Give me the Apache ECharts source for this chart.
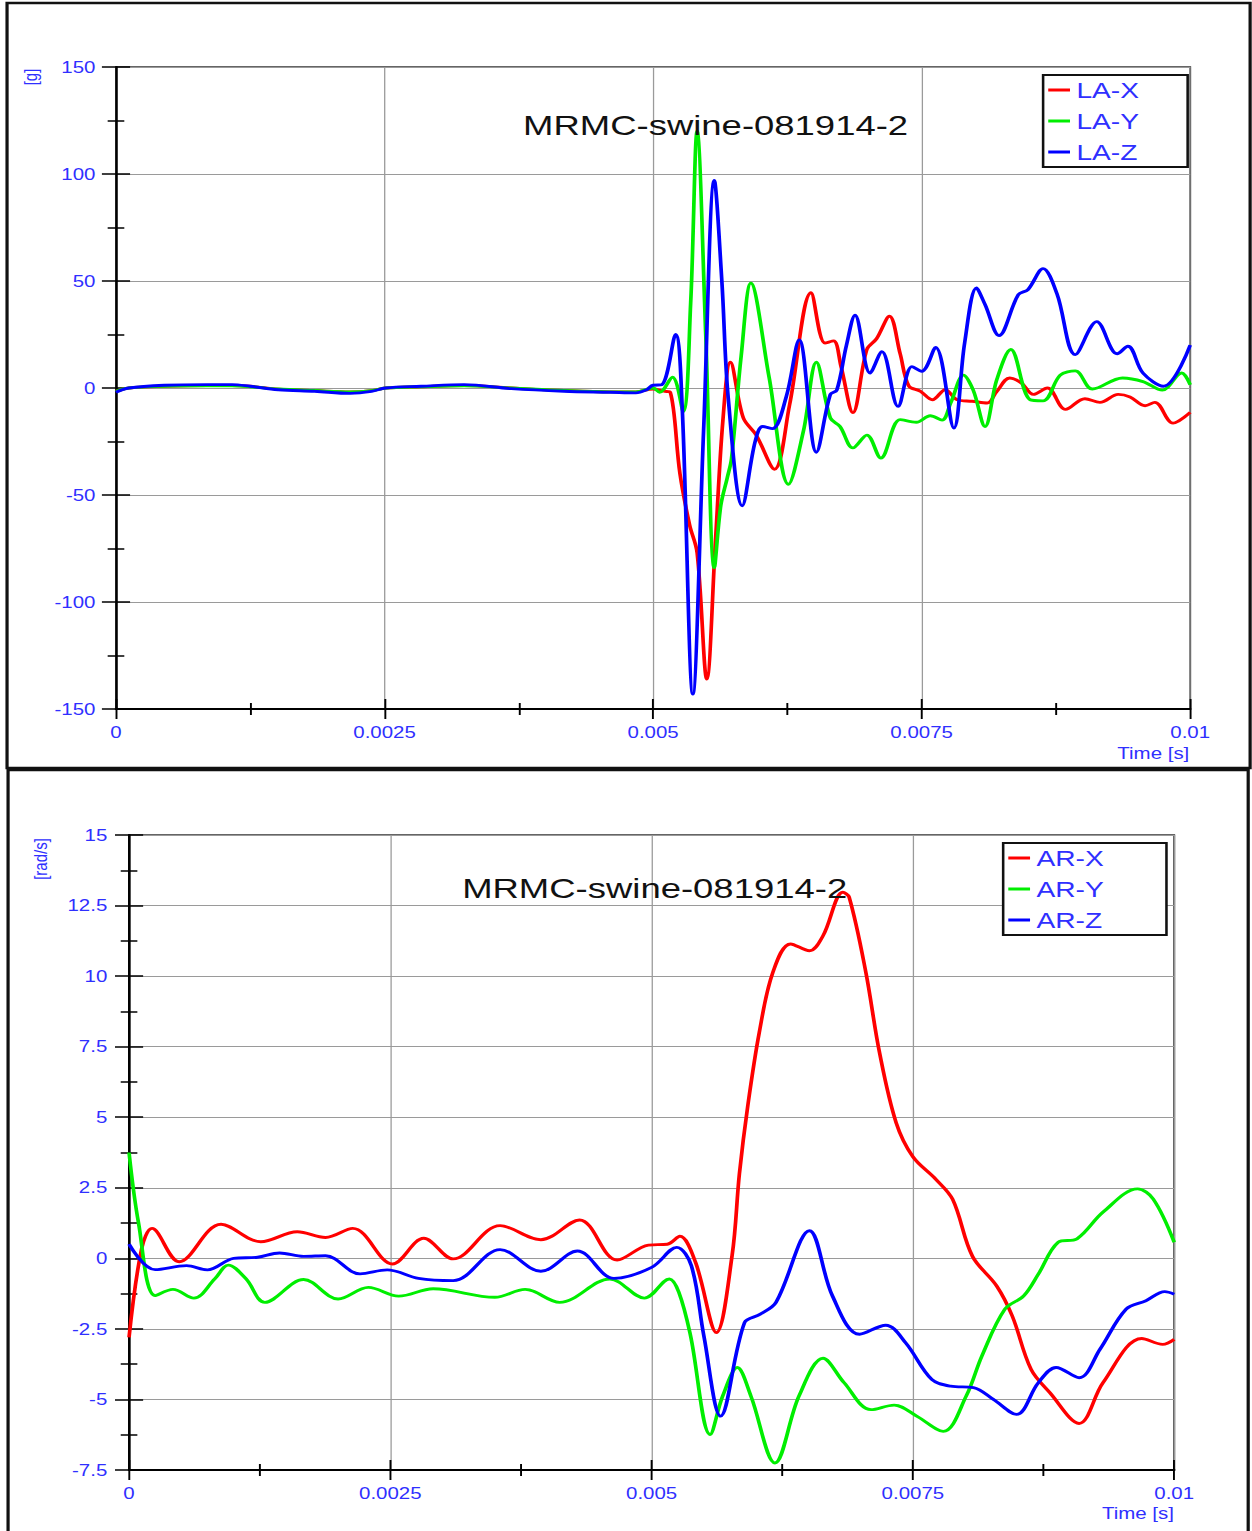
<!DOCTYPE html>
<html><head><meta charset="utf-8">
<script src="https://cdn.jsdelivr.net/npm/echarts@6/dist/echarts.min.js"></script>
<style>
html,body{margin:0;padding:0;background:#fff;overflow:hidden;}
#wrap{width:1252px;height:1531px;overflow:hidden;background:#fff;}
#chart{width:978px;height:1531px;transform:scaleX(1.2802);transform-origin:0 0;}
</style></head><body><div id="wrap"><div id="chart"></div></div>
<script>
// ---------- DATA (time in ms) ----------
const chartTitle = 'MRMC-swine-081914-2';
const xTicks = [0, 0.0025, 0.005, 0.0075, 0.01];
const laNames = ['LA-X', 'LA-Y', 'LA-Z'];
const arNames = ['AR-X', 'AR-Y', 'AR-Z'];

// Linear acceleration [g]
const tLAX = [0,0.12,0.45,0.85,1.08,1.25,1.51,1.85,2.18,2.38,2.51,2.84,3.24,3.68,4.17,4.6,4.84,5.0,5.1,5.16,5.25,5.34,5.41,5.50,5.58,5.65,5.72,5.84,5.96,6.13,6.27,6.47,6.60,6.68,6.75,6.86,6.99,7.08,7.20,7.30,7.38,7.49,7.60,7.72,7.83,7.97,8.11,8.20,8.32,8.43,8.54,8.67,8.84,9.02,9.16,9.33,9.44,9.58,9.67,9.84,10.0];
const vLAX = [-1.5,0,0.8,1.2,1.2,0.8,-0.5,-1.2,-1.8,-1.2,0,0.6,1.2,0,-1.2,-1.8,-1.8,-0.5,-1.5,-2,-40,-64,-77,-136,-72,-15,12,-14,-22,-38,-8,44.5,21,22,10,-11.5,18,23,33.5,16,1,-1.6,-5.5,-0.8,-5.5,-6.2,-7,-1.6,4.7,2.3,-3,0,-10,-5,-6.7,-3,-4.2,-8.3,-6.7,-16.4,-11.4];

const tLAY = [0,0.12,0.45,0.85,1.08,1.25,1.51,1.85,2.18,2.38,2.51,2.84,3.24,3.68,4.17,4.6,4.84,5.0,5.06,5.18,5.28,5.35,5.41,5.49,5.57,5.63,5.69,5.73,5.82,5.91,6.08,6.26,6.40,6.52,6.65,6.74,6.86,6.99,7.12,7.30,7.45,7.58,7.69,7.77,7.89,7.98,8.09,8.20,8.33,8.51,8.63,8.79,8.93,9.09,9.37,9.56,9.74,9.92,10.0];
const vLAY = [-1.5,0,0.8,1.0,1.0,0.6,-0.5,-1.2,-1.8,-1.2,0,0.6,1.0,0,-1.2,-1.8,-1.8,0,-2,5,-11,40,120,25,-84,-55,-42,-33,15,49,5,-45,-20,12,-14,-18,-28,-22,-32.7,-14.8,-16,-13,-15,-7,6,-1,-18,4,18,-5.5,-6,6,8,-0.5,4.7,3,-1,7,1.5];

const tLAZ = [0,0.12,0.45,0.85,1.08,1.25,1.51,1.85,2.18,2.38,2.51,2.84,3.24,3.68,4.17,4.6,4.84,4.94,5.0,5.08,5.21,5.27,5.37,5.47,5.57,5.64,5.70,5.83,5.95,6.02,6.11,6.24,6.36,6.52,6.65,6.71,6.80,6.88,7.02,7.13,7.28,7.41,7.50,7.63,7.80,7.90,8.01,8.09,8.22,8.40,8.49,8.63,8.76,8.93,9.13,9.32,9.42,9.56,9.75,10.0];
const vLAZ = [-2,0,1.3,1.6,1.6,0.8,-0.8,-1.5,-2.5,-1.6,0,0.8,1.6,-0.3,-1.5,-2.0,-2.3,-0.8,1.3,1.5,25,-8,-143,-20,97,50,-5,-55,-25,-18,-19,-4,22.5,-30,-3,-1,20,34,7,17,-8.6,10,7.8,19,-18.7,21,46.7,39,24.5,43.6,46,55.8,44,15.6,31,16,19.5,7,0.8,20];

// Angular rate [rad/s]
const tARX = [0,0.12,0.22,0.48,0.88,1.26,1.61,1.88,2.14,2.52,2.82,3.10,3.55,3.94,4.31,4.67,4.97,5.15,5.27,5.42,5.62,5.77,5.84,5.92,6.03,6.16,6.33,6.51,6.64,6.83,6.89,7.05,7.18,7.34,7.50,7.72,7.88,8.07,8.30,8.45,8.63,8.81,9.09,9.32,9.69,9.89,10.0];
const vARX = [-2.8,0.33,1.06,-0.12,1.21,0.59,0.94,0.74,1.06,-0.2,0.71,-0.02,1.16,0.66,1.36,-0.06,0.47,0.5,0.78,-0.14,-2.63,0.1,3.0,5.4,8.0,10.13,11.14,10.9,11.43,12.97,12.8,10.13,7.3,4.8,3.6,2.8,2.09,0.07,-0.97,-2.04,-3.93,-4.76,-5.85,-4.4,-2.84,-3.05,-2.87];

const tARY = [0,0.09,0.25,0.42,0.62,0.82,0.95,1.12,1.30,1.67,2.0,2.29,2.58,2.91,3.50,3.79,4.12,4.60,4.93,5.17,5.26,5.37,5.56,5.68,5.82,5.95,6.18,6.41,6.64,6.84,7.10,7.32,7.54,7.79,8.01,8.16,8.38,8.56,8.70,8.89,9.07,9.32,9.65,9.80,10.0];
const vARY = [3.75,1.27,-1.32,-1.1,-1.41,-0.73,-0.24,-0.73,-1.56,-0.75,-1.44,-1.03,-1.34,-1.08,-1.38,-1.1,-1.56,-0.73,-1.41,-0.73,-1.2,-2.7,-6.24,-4.88,-3.87,-4.88,-7.25,-4.88,-3.54,-4.4,-5.36,-5.2,-5.6,-6.13,-4.88,-3.46,-1.8,-1.33,-0.56,0.57,0.69,1.64,2.46,2.1,0.57];

const tARZ = [0,0.25,0.55,0.75,1.0,1.23,1.44,1.67,1.88,2.21,2.47,2.77,3.10,3.55,3.94,4.29,4.64,5.00,5.24,5.38,5.50,5.66,5.89,6.04,6.19,6.51,6.73,6.99,7.24,7.43,7.68,7.86,8.08,8.27,8.49,8.70,8.87,9.09,9.29,9.54,9.73,9.91,10.0];
const vARZ = [0.5,-0.4,-0.26,-0.41,0,0.04,0.19,0.07,0.09,-0.55,-0.41,-0.71,-0.79,0.31,-0.46,0.26,-0.71,-0.32,0.39,-0.26,-2.75,-5.59,-2.27,-1.98,-1.56,0.98,-1.33,-2.69,-2.37,-2.99,-4.29,-4.53,-4.58,-5.0,-5.53,-4.41,-3.87,-4.23,-3.22,-1.8,-1.5,-1.18,-1.27];

// ---------- CHART ----------
const BLUE = '#2f2fff';
const FONT = '"Liberation Sans", Arial, Helvetica, sans-serif';
const COLORS = ['#ff0000', '#00ee00', '#0000ff'];
const fmtT = v => String(+v.toFixed(4));

function xPair(gi, fs, margin) {
  const base = {type: 'value', gridIndex: gi, min: xTicks[0], max: xTicks[xTicks.length - 1], interval: 0.0025, position: 'bottom'};
  return [
    Object.assign({}, base, {
      axisLine: {show: true, onZero: false, lineStyle: {color: '#000', width: 2}},
      axisTick: {show: true, length: 10, lineStyle: {color: '#000', width: 1.5}},
      minorTick: {show: true, splitNumber: 2, length: 6, lineStyle: {color: '#000', width: 1.5}},
      axisLabel: {color: BLUE, fontSize: fs, margin: margin, fontFamily: FONT, formatter: fmtT},
      splitLine: {show: true, lineStyle: {color: '#9a9a9a', width: 1}}
    }),
    Object.assign({}, base, {
      axisLine: {show: false, onZero: false},
      axisTick: {show: true, inside: true, length: 10, lineStyle: {color: '#000', width: 1.5}},
      minorTick: {show: true, splitNumber: 2, length: 6, lineStyle: {color: '#000', width: 1.5}},
      axisLabel: {show: false},
      splitLine: {show: false}
    })
  ];
}
function yPair(gi, min, max, interval, fs, margin) {
  const base = {type: 'value', gridIndex: gi, min: min, max: max, interval: interval, position: 'left'};
  return [
    Object.assign({}, base, {
      axisLine: {show: true, onZero: false, lineStyle: {color: '#000', width: 2}},
      axisTick: {show: true, length: 11, lineStyle: {color: '#000', width: 1.5}},
      minorTick: {show: true, splitNumber: 2, length: 6.5, lineStyle: {color: '#000', width: 1.5}},
      axisLabel: {color: BLUE, fontSize: fs, margin: margin, fontFamily: FONT},
      splitLine: {show: true, lineStyle: {color: '#9a9a9a', width: 1}}
    }),
    Object.assign({}, base, {
      axisLine: {show: false, onZero: false},
      axisTick: {show: true, inside: true, length: 11, lineStyle: {color: '#000', width: 1.5}},
      minorTick: {show: true, splitNumber: 2, length: 6.5, lineStyle: {color: '#000', width: 1.5}},
      axisLabel: {show: false},
      splitLine: {show: false}
    })
  ];
}
function mk(name, t, v, color, xi, yi) {
  return {
    type: 'line', name: name, xAxisIndex: xi, yAxisIndex: yi,
    data: t.map((ti, i) => [ti / 1000, v[i]]),
    showSymbol: false, symbol: 'none', smooth: 0.35, clip: true,
    lineStyle: {color: color, width: 2.9}, itemStyle: {color: color},
    emphasis: {disabled: true}, silent: true
  };
}
function legendCfg(names, left, top, padRight) {
  return {
    data: names, orient: 'vertical', left: left, top: top,
    padding: [3, padRight, 3, 4], itemGap: 7, itemWidth: 17, itemHeight: 3, icon: 'rect',
    textStyle: {color: BLUE, fontSize: 22, lineHeight: 24, fontFamily: FONT},
    borderColor: '#111', borderWidth: 2, backgroundColor: '#fff', selectedMode: false
  };
}

const chart = echarts.init(document.getElementById('chart'), null, {renderer: 'svg'});
chart.setOption({
  animation: false,
  backgroundColor: '#fff',
  title: [
    {text: chartTitle, left: 408.6, top: 110, padding: 0, textStyle: {fontSize: 28.5, fontWeight: 'normal', color: '#111', fontFamily: FONT}},
    {text: chartTitle, left: 361, top: 873, padding: 0, textStyle: {fontSize: 28.5, fontWeight: 'normal', color: '#111', fontFamily: FONT}}
  ],
  legend: [legendCfg(laNames, 814.8, 75, 38), legendCfg(arNames, 783.6, 843, 49)],
  grid: [
    {left: 90.6, top: 67, width: 839.1, height: 642, show: true, borderColor: '#333', borderWidth: 1.5, backgroundColor: 'transparent'},
    {left: 100.8, top: 835, width: 816.4, height: 635, show: true, borderColor: '#333', borderWidth: 1.5, backgroundColor: 'transparent'}
  ],
  xAxis: xPair(0, 16, 15).concat(xPair(1, 16, 15)),
  yAxis: yPair(0, -150, 150, 50, 16, 16).concat(yPair(1, -7.5, 15, 2.5, 16, 17)),
  series: [
    mk(laNames[0], tLAX, vLAX, COLORS[0], 0, 0),
    mk(laNames[1], tLAY, vLAY, COLORS[1], 0, 0),
    mk(laNames[2], tLAZ, vLAZ, COLORS[2], 0, 0),
    mk(arNames[0], tARX, vARX, COLORS[0], 2, 2),
    mk(arNames[1], tARY, vARY, COLORS[1], 2, 2),
    mk(arNames[2], tARZ, vARZ, COLORS[2], 2, 2)
  ],
  graphic: [
    {type: 'rect', shape: {x: 5.5, y: 3, width: 971, height: 765}, style: {fill: 'none', stroke: '#111', lineWidth: 2.5}, silent: true},
    {type: 'rect', shape: {x: 6.3, y: 770, width: 968.7, height: 800}, style: {fill: 'none', stroke: '#111', lineWidth: 2.5}, silent: true},
    {type: 'text', x: 23.5, y: 77, rotation: Math.PI / 2, style: {text: '[g]', fill: BLUE, fontSize: 15, fontFamily: FONT, textAlign: 'center', textVerticalAlign: 'middle'}, silent: true},
    {type: 'text', x: 31.5, y: 859, rotation: Math.PI / 2, style: {text: '[rad/s]', fill: BLUE, fontSize: 15, fontFamily: FONT, textAlign: 'center', textVerticalAlign: 'middle'}, silent: true},
    {type: 'text', x: 929, y: 753, style: {text: 'Time [s]', fill: BLUE, fontSize: 16, fontFamily: FONT, textAlign: 'right', textVerticalAlign: 'middle'}, silent: true},
    {type: 'text', x: 917, y: 1513, style: {text: 'Time [s]', fill: BLUE, fontSize: 16, fontFamily: FONT, textAlign: 'right', textVerticalAlign: 'middle'}, silent: true}
  ]
});
</script>
</body></html>
